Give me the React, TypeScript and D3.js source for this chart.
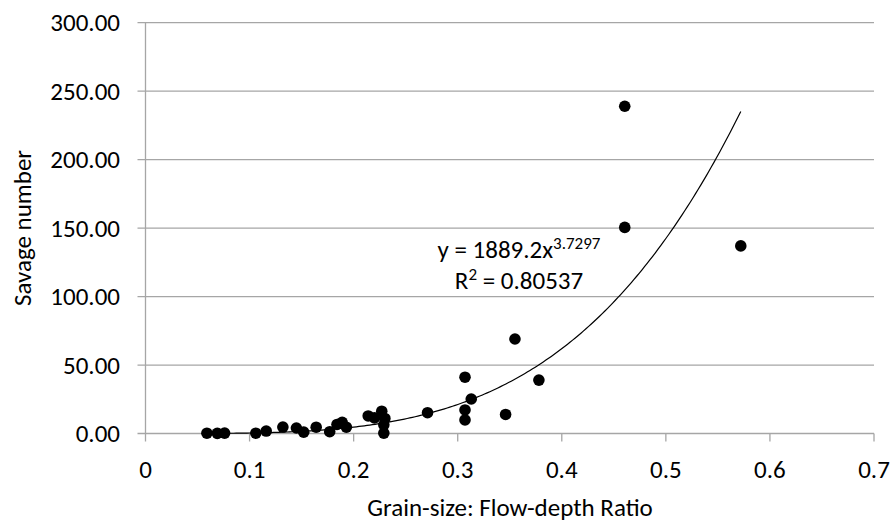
import React from "react";
import * as d3 from "d3";

const xValues = [0.059, 0.069, 0.076, 0.106, 0.116, 0.132, 0.145, 0.152, 0.164, 0.177, 0.184, 0.189, 0.193, 0.214, 0.220, 0.227, 0.230, 0.229, 0.229, 0.271, 0.307, 0.307, 0.307, 0.313, 0.346, 0.355, 0.378, 0.4605, 0.4605, 0.572];
const yValues = [0.2, 0.1, 0.3, 0.2, 1.8, 4.7, 4.0, 1.0, 4.6, 1.3, 6.6, 8.1, 4.6, 12.8, 11.4, 16.3, 11.0, 6.3, 0.3, 15.2, 41.1, 17.2, 9.9, 25.2, 13.9, 69.0, 39.0, 239.0, 150.5, 137.0];
const yTicks = [0, 50, 100, 150, 200, 250, 300];
const xTicks = [0, 0.1, 0.2, 0.3, 0.4, 0.5, 0.6, 0.7];
const fitA = 1889.2;
const fitB = 3.7297;

const W = 895, H = 523;
const left = 145.5, right = 874, top = 22.7, bottom = 433.5;
const FONT = "Carlito, Calibri, Lato, sans-serif";
const FS = 25;

export default function App() {
  const x = d3.scaleLinear().domain([0, 0.7]).range([left, right]);
  const y = d3.scaleLinear().domain([0, 300]).range([bottom, top]);
  const xmin = d3.min(xValues)!, xmax = d3.max(xValues)!;
  const fitPts = d3.range(0, 201).map(i => {
    const xv = xmin + (xmax - xmin) * i / 200;
    return [xv, fitA * Math.pow(xv, fitB)] as [number, number];
  });
  const line = d3.line<[number, number]>().x(d => x(d[0])).y(d => y(d[1]));
  const grid = "#a6a6a6";
  return (
    <svg width={W} height={H} style={{ position: "absolute", left: 0, top: 0, background: "#fff" }} fontFamily={FONT}>
      {yTicks.map(t => (
        <g key={t}>
          <line x1={left - 8} x2={right} y1={y(t)} y2={y(t)} stroke={grid} strokeWidth={1.3} />
          <text x={120} y={y(t)} dy="0.35em" textAnchor="end" fontSize={FS} fill="#000">{t.toFixed(2)}</text>
        </g>
      ))}
      <line x1={left} x2={left} y1={top} y2={bottom} stroke={grid} strokeWidth={1.3} />
      {xTicks.map(t => (
        <g key={t}>
          <line x1={x(t)} x2={x(t)} y1={bottom} y2={bottom + 8} stroke={grid} strokeWidth={1.3} />
          <text x={x(t)} y={469} dy="0.35em" textAnchor="middle" fontSize={FS} fill="#000">{t === 0 ? "0" : String(t)}</text>
        </g>
      ))}
      <path d={line(fitPts)!} fill="none" stroke="#000" strokeWidth={1.2} />
      {xValues.map((xv, i) => (
        <circle key={i} cx={x(xv)} cy={y(yValues[i])} r={5.8} fill="#000" />
      ))}
      <text x={519} y={249} dy="0.35em" textAnchor="middle" fontSize={FS} fill="#000">
        y = 1889.2x<tspan fontSize={17} dy="-9">3.7297</tspan>
      </text>
      <text x={519} y={280} dy="0.35em" textAnchor="middle" fontSize={FS} fill="#000">
        R<tspan fontSize={17} dy="-9">2</tspan><tspan dy="9"> = 0.80537</tspan>
      </text>
      <text x={510} y={507} dy="0.35em" textAnchor="middle" fontSize={FS} fill="#000">Grain-size: Flow-depth Ratio</text>
      <text transform={`translate(22,228) rotate(-90)`} dy="0.35em" textAnchor="middle" fontSize={FS} fill="#000">Savage number</text>
    </svg>
  );
}
